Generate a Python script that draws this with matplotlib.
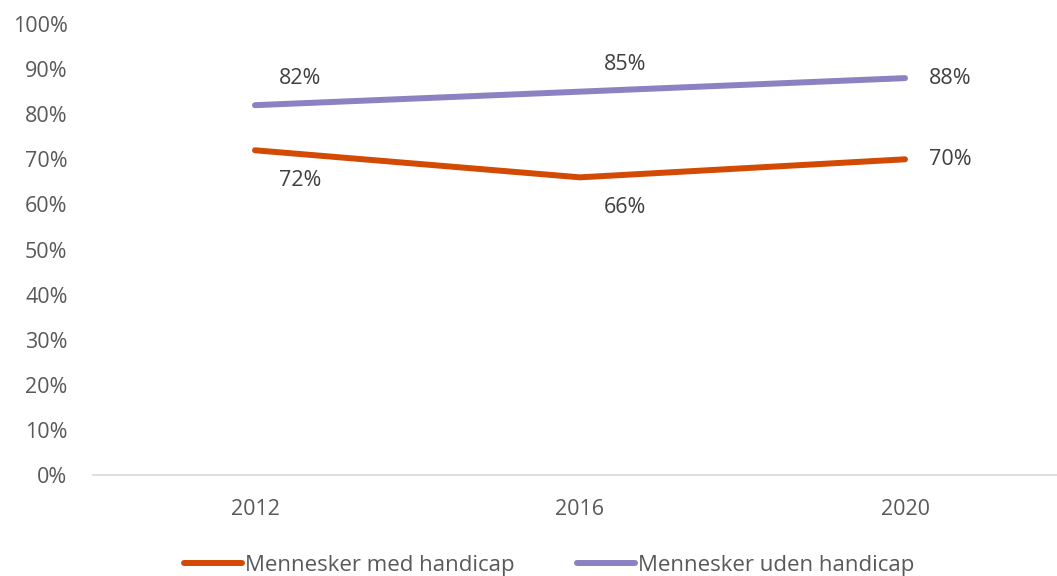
import matplotlib.pyplot as plt
from matplotlib.lines import Line2D

plt.rcParams['font.family'] = ['Open Sans', 'DejaVu Sans']

years = ["2012", "2016", "2020"]
med_handicap = [72, 66, 70]
uden_handicap = [82, 85, 88]

orange = '#D24A04'
purple = '#8B82C2'
grey = '#595959'

fig = plt.figure(figsize=(10.57, 5.76), dpi=100)
# plot area runs off the right edge, like the original
ax = fig.add_axes([92.5 / 1057, 101 / 576, 975 / 1057, 451 / 576])

x = range(len(years))
ax.plot(x, med_handicap, color=orange, lw=4.3, solid_capstyle='round')
ax.plot(x, uden_handicap, color=purple, lw=4.3, solid_capstyle='round')

# data labels (offsets in pixels -> points)
px = 0.72
uden_off = [(45, 27), (45, 27), (45, 0)]
med_off = [(45, -30), (45, -30), (45, 0)]
for i, v in enumerate(uden_handicap):
    ax.annotate(f"{v}%", (i, v), xytext=(uden_off[i][0] * px, uden_off[i][1] * px),
                textcoords='offset points', ha='center', va='center',
                fontsize=15.5, color='#404040')
for i, v in enumerate(med_handicap):
    ax.annotate(f"{v}%", (i, v), xytext=(med_off[i][0] * px, med_off[i][1] * px),
                textcoords='offset points', ha='center', va='center',
                fontsize=15.5, color='#404040')

ax.set_xlim(-0.5, 2.5)
ax.set_ylim(0, 100)
ax.set_xticks(list(x))
ax.set_xticklabels(years)
ax.set_yticks(range(0, 101, 10))
ax.set_yticklabels([f"{t}%" for t in range(0, 101, 10)])
ax.tick_params(length=0, labelsize=15.5, colors=grey)
ax.tick_params(axis='y', pad=18)
ax.tick_params(axis='x', pad=17)

for s in ['top', 'right', 'left']:
    ax.spines[s].set_visible(False)
ax.spines['bottom'].set_color('#D9D9D9')
ax.spines['bottom'].set_linewidth(1.2)

handles = [Line2D([], [], color=orange, lw=4.3, solid_capstyle='round'),
           Line2D([], [], color=purple, lw=4.3, solid_capstyle='round')]
fig.legend(handles, ["Mennesker med handicap", "Mennesker uden handicap"],
           loc='center', bbox_to_anchor=(549 / 1057, 1 - 565 / 576), ncol=2,
           frameon=False, fontsize=16, labelcolor=grey, handlelength=2.6,
           handletextpad=0.15, columnspacing=2.8)

fig.savefig("out.png", dpi=100)
